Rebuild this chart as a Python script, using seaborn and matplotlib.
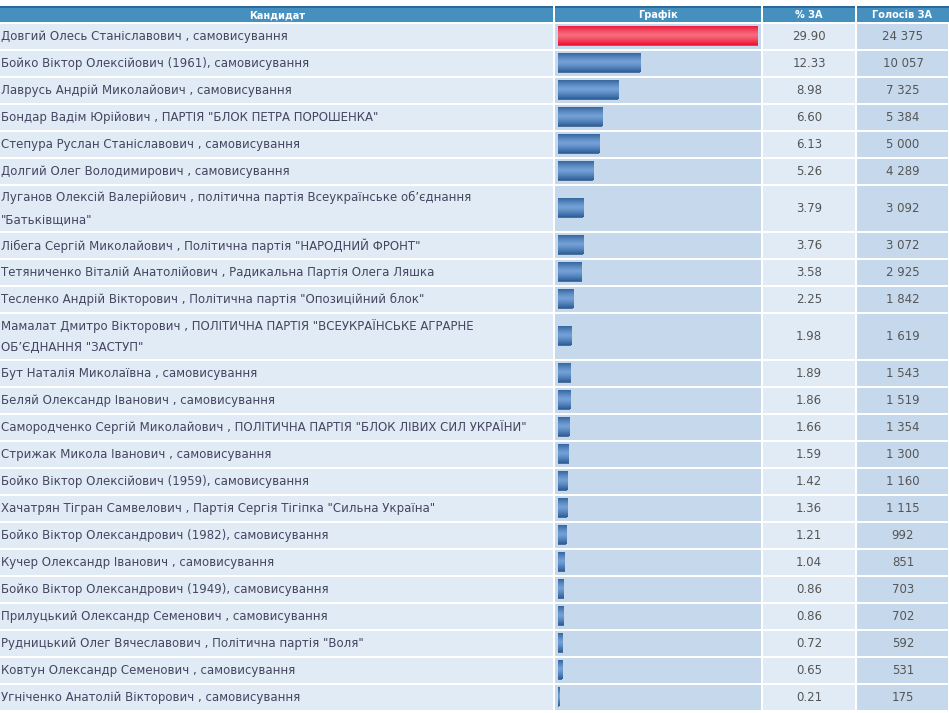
import numpy as np
import pandas as pd
import matplotlib
matplotlib.use("Agg")
import matplotlib.pyplot as plt
import seaborn as sns
from matplotlib.patches import Rectangle

# дані
candidates = [
    'Довгий Олесь Станіславович , самовисування',
    'Бойко Віктор Олексійович (1961), самовисування',
    'Лаврусь Андрій Миколайович , самовисування',
    'Бондар Вадім Юрійович , ПАРТІЯ "БЛОК ПЕТРА ПОРОШЕНКА"',
    'Степура Руслан Станіславович , самовисування',
    'Долгий Олег Володимирович , самовисування',
    'Луганов Олексій Валерійович , політична партія Всеукраїнське об’єднання\n"Батьківщина"',
    'Лібега Сергій Миколайович , Політична партія "НАРОДНИЙ ФРОНТ"',
    'Тетяниченко Віталій Анатолійович , Радикальна Партія Олега Ляшка',
    'Тесленко Андрій Вікторович , Політична партія "Опозиційний блок"',
    'Мамалат Дмитро Вікторович , ПОЛІТИЧНА ПАРТІЯ "ВСЕУКРАЇНСЬКЕ АГРАРНЕ\nОБ’ЄДНАННЯ "ЗАСТУП"',
    'Бут Наталія Миколаївна , самовисування',
    'Беляй Олександр Іванович , самовисування',
    'Самородченко Сергій Миколайович , ПОЛІТИЧНА ПАРТІЯ "БЛОК ЛІВИХ СИЛ УКРАЇНИ"',
    'Стрижак Микола Іванович , самовисування',
    'Бойко Віктор Олексійович (1959), самовисування',
    'Хачатрян Тігран Самвелович , Партія Сергія Тігіпка "Сильна Україна"',
    'Бойко Віктор Олександрович (1982), самовисування',
    'Кучер Олександр Іванович , самовисування',
    'Бойко Віктор Олександрович (1949), самовисування',
    'Прилуцький Олександр Семенович , самовисування',
    'Рудницький Олег Вячеславович , Політична партія "Воля"',
    'Ковтун Олександр Семенович , самовисування',
    'Угніченко Анатолій Вікторович , самовисування',
]
percent = [29.90, 12.33, 8.98, 6.60, 6.13, 5.26, 3.79, 3.76, 3.58, 2.25, 1.98, 1.89,
           1.86, 1.66, 1.59, 1.42, 1.36, 1.21, 1.04, 0.86, 0.86, 0.72, 0.65, 0.21]
votes = [24375, 10057, 7325, 5384, 5000, 4289, 3092, 3072, 2925, 1842, 1619, 1543,
         1519, 1354, 1300, 1160, 1115, 992, 851, 703, 702, 592, 531, 175]
headers = ['Кандидат', 'Графік', '% ЗА', 'Голосів ЗА']

# розмітка таблиці (пікселі)
W, H = 949, 713
col_edges = [0, 554, 762, 856, 949]
col_bg = ['#e1ebf5', '#c6d9ec', '#e1ebf5', '#c6d9ec']
head_top, head_bot = 6, 22
row_h = [47 if '\n' in c else 27 for c in candidates]
row_top = head_bot + np.concatenate([[0], np.cumsum(row_h)[:-1]])
row_mid = row_top + np.array(row_h) / 2

df = pd.DataFrame({'name': candidates, 'pct': percent, 'votes': votes,
                   'y': row_mid, 'lead': ['yes'] + ['no'] * (len(candidates) - 1)})

fig = plt.figure(figsize=(W / 100, H / 100), dpi=100)
ax = fig.add_axes([0, 0, 1, 1])
ax.set_xlim(0, W)
ax.set_ylim(H, 0)
ax.axis('off')

# шапка
ax.add_patch(Rectangle((0, head_top), W, head_bot - head_top, color='#4690c0', lw=0))
ax.add_patch(Rectangle((0, head_top), W, 1.5, color='#2a6a9a', lw=0))
for i, h in enumerate(headers):
    x0, x1 = col_edges[i], col_edges[i + 1]
    if i > 0:
        ax.add_patch(Rectangle((x0 - 1, head_top), 2, head_bot - head_top, color='white', lw=0))
    ax.text((x0 + x1) / 2, (head_top + head_bot) / 2 + 1, h, color='white', fontsize=7,
            fontweight='bold', ha='center', va='center')

# рядки
txt_color = '#454560'
for _, r in df.iterrows():
    top = r['y'] - (r['name'].count('\n') * 10 + 13.5)
    hgt = 47 if '\n' in r['name'] else 27
    for i in range(4):
        x0, x1 = col_edges[i], col_edges[i + 1]
        ax.add_patch(Rectangle((x0 + (1 if i else 0), top + 1.5), x1 - x0 - (2 if i else 1),
                               hgt - 1.5, color=col_bg[i], lw=0))
    ax.text(1, r['y'] + 1, r['name'], fontsize=8.5, color=txt_color, ha='left',
            va='center', linespacing=1.85)
    ax.text(809, r['y'] + 1, f"{r['pct']:.2f}", fontsize=8.5, color='#555555',
            ha='center', va='center')
    ax.text(903, r['y'] + 1, f"{r['votes']:,}".replace(',', ' '), fontsize=8.5,
            color='#555555', ha='center', va='center')

# графік
cax = fig.add_axes([558 / W, 0, 200 / W, 1])
sns.barplot(data=df, x='pct', y='y', hue='lead', palette={'yes': '#f03050', 'no': '#3f6fa5'},
            orient='y', native_scale=True, width=20 / 27, legend=False, ax=cax)
cax.set_xlim(0, max(percent))
cax.set_ylim(H, 0)
cax.axis('off')

grad = np.abs(np.linspace(-1, 1, 64)) ** 1.3
red = np.array([[0.97, 0.42, 0.49]]) * (1 - grad[:, None]) + np.array([[0.92, 0.06, 0.20]]) * grad[:, None]
blue = np.array([[0.45, 0.63, 0.84]]) * (1 - grad[:, None]) + np.array([[0.18, 0.37, 0.60]]) * grad[:, None]
for p in list(cax.patches):
    if p.get_width() <= 0:
        continue
    x, y, w, h = p.get_x(), p.get_y(), p.get_width(), p.get_height()
    img = red if abs(w - max(percent)) < 1e-6 else blue
    im = cax.imshow(img[:, None, :], extent=(x, x + w, y + h, y), aspect='auto',
                    interpolation='bilinear', zorder=3)
    im.set_clip_path(p)
cax.set_xlim(0, max(percent))
cax.set_ylim(H, 0)

fig.savefig('out.png', dpi=100)
